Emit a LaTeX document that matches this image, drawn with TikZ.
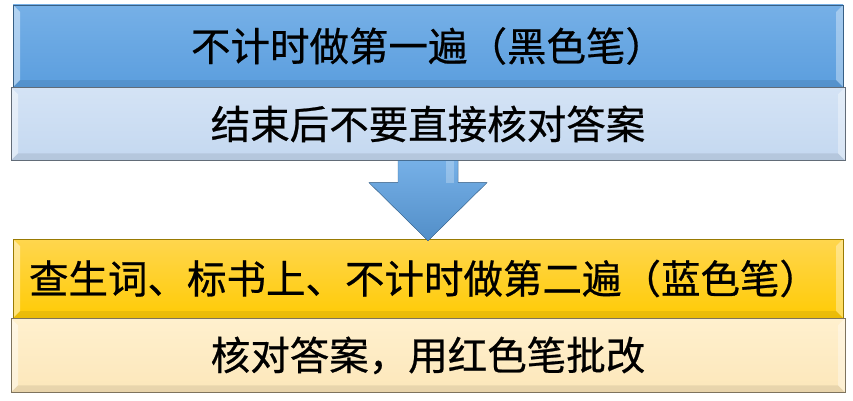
\documentclass[tikz,border=0pt]{standalone}
\usepackage{fontspec}
\usepackage{tikz}
\usepackage{xcolor}
\usetikzlibrary{positioning,calc}
\newfontfamily\cjk[FakeBold=0.6]{Noto Sans CJK SC}
\definecolor{bluetop}{HTML}{76B0E7}
\definecolor{bluebot}{HTML}{5B9EDE}
\definecolor{paletop}{HTML}{D4E3F5}
\definecolor{palebot}{HTML}{C4D8F0}
\definecolor{goldtop}{HTML}{FFD64E}
\definecolor{goldbot}{HTML}{FFCB05}
\definecolor{creamtop}{HTML}{FFF0CE}
\definecolor{creambot}{HTML}{FCE7BA}
\begin{document}
\begin{tikzpicture}[x=1pt,y=1pt,
box/.style={rectangle,inner sep=0pt,font=\cjk\fontsize{39.5}{42}\selectfont,
 path picture={
 \fill[white,opacity=.45](path picture bounding box.north west)--++(7,-7)
  |-([shift={(7,7)}]path picture bounding box.south west)--(path picture bounding box.south west)--cycle;
 \fill[white,opacity=.35](path picture bounding box.north east)--++(-7,-7)
  |-([shift={(-7,7)}]path picture bounding box.south east)--(path picture bounding box.south east)--cycle;
 \fill[black,opacity=.08](path picture bounding box.south west)--++(7,7)
  -|([shift={(-7,7)}]path picture bounding box.south east)--(path picture bounding box.south east)--cycle;}},
task/.style={box,minimum width=830,draw=#1!60!black},
note/.style={box,minimum width=834,minimum height=74,draw=#1!50!black}]
\useasboundingbox(0,0)rectangle(853,400);
\node[task=bluebot,minimum height=82,top color=bluetop,bottom color=bluebot](task1)at(428,354){不计时做第一遍（黑色笔）};
\node[note=palebot,minimum height=73,top color=paletop,bottom color=palebot,below=0pt of task1](note1){结束后不要直接核对答案};
\node[task=goldbot,minimum height=79,top color=goldtop,bottom color=goldbot](task2)at(428,121.5){查生词、标书上、不计时做第二遍（蓝色笔）\hspace*{8pt}};
\node[note=creambot,top color=creamtop,bottom color=creambot,below=0pt of task2](note2){核对答案，用红色笔批改};
% block arrow between the two steps
\path(note1.south)coordinate(a)(task2.north)coordinate(b);
\fill[top color=bluetop,bottom color=bluebot!90!black,draw=bluebot!70!black]
($(a)+(-30,0)$)--($(a)+(-30,-22)$)--($(a)+(-59,-22)$)--($(b)+(0,-2)$)
--($(a)+(59,-22)$)--($(a)+(30,-22)$)--($(a)+(30,0)$)--cycle;
\fill[white,opacity=.25]($(a)+(18,0)$)rectangle($(a)+(26,-22)$);
\end{tikzpicture}
\end{document}
